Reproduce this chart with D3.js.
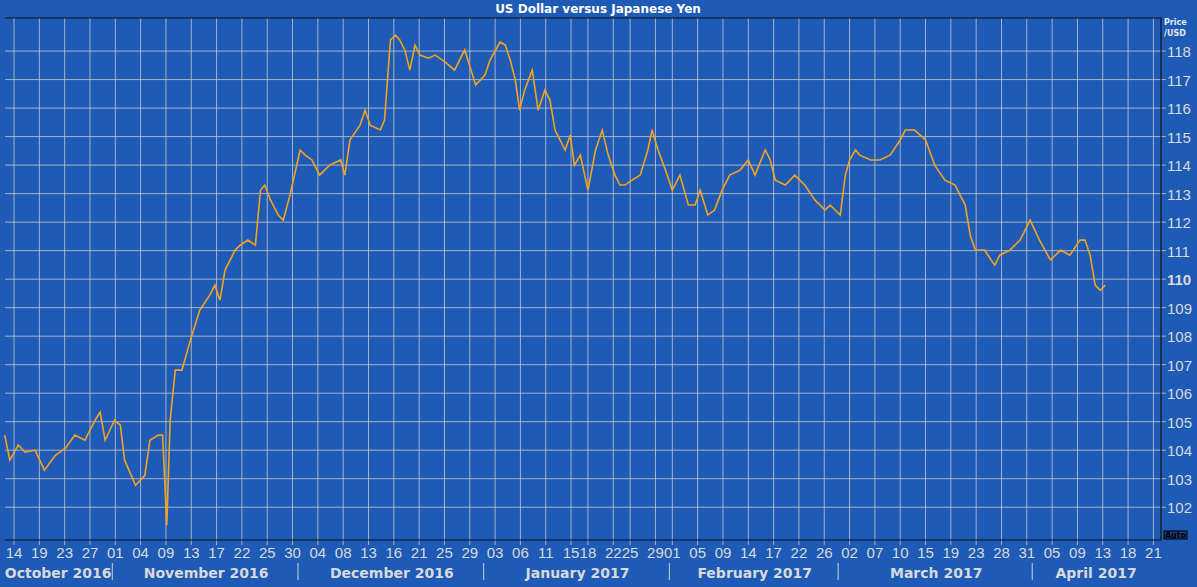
<!DOCTYPE html><html><head><meta charset="utf-8">
<script src="https://cdn.jsdelivr.net/npm/d3@7"></script>
<style>body{margin:0;background:#1e5bb6;}svg{display:block;font-family:Verdana,"DejaVu Sans",sans-serif;}</style></head><body>
<svg id="c" width="1197" height="587"></svg>
<script>
// position in trading days after 2016-10-14, and USD/JPY price
const tdays=[-1.1,-0.5,0.5,1.3,2.5,3.6,4.9,6.1,7.2,8.4,9.6,10.2,10.8,11.9,12.6,13.1,14.4,15.5,16.1,17.1,17.6,18.1,18.5,19.1,19.9,20.9,22.0,23.2,23.8,24.4,25.0,26.2,26.8,27.7,28.6,29.2,29.7,30.4,31.3,31.9,32.7,33.9,34.5,35.3,36.2,37.4,38.7,39.2,39.8,41.0,41.6,42.2,43.4,43.9,44.6,45.2,45.7,46.3,46.9,47.5,48.1,49.1,49.9,51.1,52.2,53.4,54.7,55.8,56.4,57.6,58.2,58.8,59.4,59.9,60.5,61.4,62.1,62.9,63.5,64.1,64.7,65.3,65.9,66.4,67.1,68.0,68.9,69.7,70.4,71.2,71.8,72.4,73.2,74.2,75.1,75.6,76.3,77.2,78.0,78.9,79.9,80.7,81.3,82.2,83.0,83.9,84.8,86.0,87.0,87.8,89.0,89.6,90.2,91.4,92.5,93.7,94.9,96.1,96.7,97.9,98.5,99.0,99.7,100.2,101.5,102.6,103.8,105.0,105.6,106.7,108.0,109.1,110.3,111.5,112.7,113.3,113.9,115.0,116.2,116.8,118.0,119.2,120.4,121.5,122.8,124.0,125.1,126.3,126.9,127.5,128.1,128.7,129.3];
const prices=[104.53,103.65,104.18,103.93,104.0,103.30,103.82,104.07,104.53,104.35,105.05,105.33,104.35,105.05,104.88,103.65,102.77,103.12,104.35,104.53,104.53,101.37,105.05,106.81,106.81,107.86,108.91,109.44,109.79,109.26,110.32,111.02,111.19,111.37,111.19,113.12,113.30,112.77,112.25,112.07,112.95,114.53,114.35,114.18,113.65,114.0,114.18,113.65,114.88,115.40,115.93,115.40,115.23,115.58,118.39,118.56,118.39,118.04,117.33,118.21,117.86,117.75,117.86,117.61,117.33,118.04,116.81,117.16,117.68,118.32,118.21,117.68,116.98,115.93,116.63,117.33,115.93,116.63,116.28,115.23,114.88,114.53,115.05,113.99,114.35,113.12,114.53,115.23,114.35,113.65,113.30,113.30,113.47,113.65,114.53,115.23,114.53,113.82,113.12,113.65,112.60,112.60,113.12,112.25,112.42,113.12,113.65,113.82,114.18,113.65,114.53,114.18,113.47,113.30,113.65,113.30,112.77,112.42,112.60,112.25,113.65,114.18,114.53,114.35,114.18,114.18,114.35,114.88,115.23,115.23,114.88,113.99,113.47,113.30,112.60,111.54,111.02,111.02,110.49,110.84,111.02,111.37,112.07,111.37,110.67,111.02,110.84,111.37,111.37,110.84,109.79,109.61,109.79];
const dayTicks=["2016-10-14","2016-10-19","2016-10-23","2016-10-27","2016-11-01","2016-11-04","2016-11-09","2016-11-13","2016-11-17","2016-11-22","2016-11-25","2016-11-30","2016-12-04","2016-12-08","2016-12-13","2016-12-16","2016-12-21","2016-12-25","2016-12-29","2017-01-03","2017-01-06","2017-01-11","2017-01-15","2017-01-18","2017-01-22","2017-01-25","2017-01-29","2017-02-01","2017-02-05","2017-02-09","2017-02-14","2017-02-17","2017-02-22","2017-02-26","2017-03-02","2017-03-07","2017-03-10","2017-03-15","2017-03-19","2017-03-23","2017-03-28","2017-03-31","2017-04-05","2017-04-09","2017-04-13","2017-04-18","2017-04-21"];
const months=["2016-10-01","2016-11-01","2016-12-01","2017-01-01","2017-02-01","2017-03-01","2017-04-01","2017-05-01"];
const monthLabels=["October 2016","November 2016","December 2016","January 2017","February 2017","March 2017","April 2017"];
const yTicks=d3.range(102,119);

const svg=d3.select("#c");
const L=5,R=1161,T=18,B=540;
const p=d3.utcParse("%Y-%m-%d");
const base=p("2016-10-14");
function td(s){let d=p(s);while(d.getUTCDay()===0||d.getUTCDay()===6)d=d3.utcDay.offset(d,1);
  const sign=d<base?-1:1;return sign*d3.utcDay.range(d<base?d:base,d<base?base:d).filter(z=>z.getUTCDay()%6!==0).length;}
const x=d3.scaleLinear().domain([-1.07,135.9]).range([L,R]);
const y=d3.scaleLinear().domain([100.85,119.16]).range([B,T]);

svg.append("text").attr("x",598).attr("y",13).attr("text-anchor","middle").attr("fill","#fff").attr("font-weight","bold").attr("font-size",12).text("US Dollar versus Japanese Yen");
const g=svg.append("g");
g.selectAll(".vg").data(dayTicks).join("line").attr("x1",d=>x(td(d))).attr("x2",d=>x(td(d))).attr("y1",T).attr("y2",B+5).attr("stroke","#c8c8c8").attr("opacity",0.8);
g.selectAll(".hg").data(yTicks).join("line").attr("x1",L).attr("x2",R+5).attr("y1",d=>y(d)).attr("y2",d=>y(d)).attr("stroke","#c8c8c8").attr("opacity",0.8);
g.append("path").attr("d",`M${L},${T}H${R}V${B}H${L}`).attr("fill","none").attr("stroke","#111").attr("stroke-width",1.2);
svg.selectAll(".yl").data(yTicks).join("text").attr("x",1167).attr("y",d=>y(d)+6).attr("fill","#d9d9d9").attr("font-family","'Liberation Sans',Arial,sans-serif").attr("font-size",15).attr("font-weight",d=>d===110?"bold":"normal").text(d=>d);
svg.append("text").attr("x",1164).attr("y",25).attr("fill","#e8e8e8").attr("font-size",8).attr("font-weight","bold").text("Price");
svg.append("text").attr("x",1164).attr("y",36).attr("fill","#e8e8e8").attr("font-size",8).attr("font-weight","bold").text("/USD");
svg.append("rect").attr("x",1164).attr("y",531).attr("width",23).attr("height",8).attr("fill","#1b3f7a").attr("stroke","#000");
svg.append("text").attr("x",1175.5).attr("y",538).attr("text-anchor","middle").attr("font-size",8).attr("font-weight","bold").attr("fill","#000").text("Auto");
svg.selectAll(".xl").data(dayTicks).join("text").attr("x",d=>x(td(d))).attr("y",558).attr("text-anchor","middle").attr("fill","#d9d9d9").attr("font-family","'Liberation Sans',Arial,sans-serif").attr("font-size",15).text(d=>d.slice(8));
svg.selectAll(".ms").data(months.slice(1,7)).join("line").attr("x1",d=>x(td(d))-3).attr("x2",d=>x(td(d))-3).attr("y1",563).attr("y2",580).attr("stroke","#d0d0d0");
svg.selectAll(".ml").data(monthLabels).join("text").attr("x",(d,i)=>{const a=Math.max(L,x(td(months[i]))),b=Math.min(R,x(td(months[i+1])));return (a+b)/2-2;}).attr("y",578).attr("text-anchor","middle").attr("fill","#d9d9d9").attr("font-size",14).attr("font-weight","bold").text(d=>d);
const line=d3.line().x((d,i)=>x(tdays[i])).y(d=>y(d));
svg.append("path").datum(prices).attr("d",line).attr("fill","none").attr("stroke","#f7a21b").attr("stroke-width",1.6);
</script></body></html>
